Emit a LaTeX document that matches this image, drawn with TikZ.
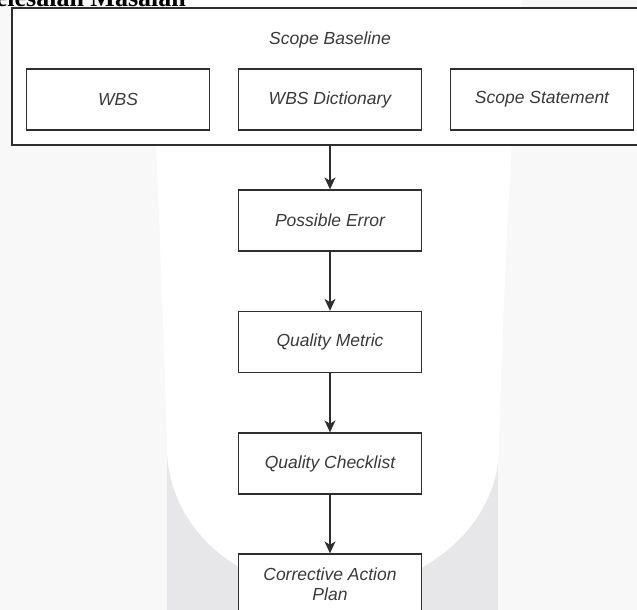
\documentclass[tikz,border=0pt]{standalone}
\usepackage{fontspec}
\setmainfont{Liberation Serif}
\newfontfamily\boxfont{Liberation Sans}
\usetikzlibrary{arrows.meta,positioning}
\definecolor{bgbase}{HTML}{F8F8F8}
\definecolor{bgband}{HTML}{E7E7E9}
\definecolor{linec}{HTML}{2E2E2E}
\definecolor{textc}{HTML}{3A3A3A}
\tikzset{
  flowbox/.style={draw=linec, line width=1.3pt, fill=white, minimum width=183pt, minimum height=61pt,
    inner sep=0pt, font=\boxfont\itshape\fontsize{17.5}{20}\selectfont, text=textc, align=center},
  flowarrow/.style={draw=linec, line width=1.3pt, -{Stealth[length=12pt,width=11pt,inset=3.5pt]}},
}
\begin{document}
\begin{tikzpicture}[x=1pt,y=-1pt]
\useasboundingbox (0,0) rectangle (637,610);
\clip (0,0) rectangle (637,610);
% background
\fill[bgbase] (0,0) rectangle (637,610);
\fill[bgband] (167,300) rectangle (498,610);
\fill[white] (150,0) .. controls (156,150) and (163,300) .. (167,447)
  .. controls (167,526.5) and (238.3,591) .. (330,591)
  .. controls (421.7,591) and (499,526.5) .. (499,447)
  .. controls (503,300) and (510,150) .. (522,0) -- cycle;
% clipped heading
\node[anchor=base east, inner sep=0pt, font=\bfseries\fontsize{26}{30}\selectfont] (head) at (186,6.5) {Penyelesaian Masalah};
% container
\node[draw=linec, line width=1.3pt, fill=white, minimum width=636pt, minimum height=137pt, inner sep=0pt] (base) at (330,76.5) {};
\node[font=\boxfont\itshape\fontsize{17.5}{20}\selectfont, text=textc, inner sep=0pt] (basetitle) at (330,40) {Scope Baseline};
\node[flowbox] (wbs) at (118,99.5) {WBS};
\node[flowbox] (dict) at (330,99.5) {WBS Dictionary};
\node[flowbox] (stmt) at (542,99.5) {Scope Statement};
% chain
\node[flowbox] (err) at (330,220.5) {Possible Error};
\node[flowbox] (metric) at (330,342) {Quality Metric};
\node[flowbox] (check) at (330,463.5) {Quality Checklist};
\node[flowbox] (plan) at (330,584.5) {Corrective Action\\Plan};
\draw[flowarrow] (base.south) -- (err.north);
\draw[flowarrow] (err.south) -- (metric.north);
\draw[flowarrow] (metric.south) -- (check.north);
\draw[flowarrow] (check.south) -- (plan.north);
\end{tikzpicture}
\end{document}
